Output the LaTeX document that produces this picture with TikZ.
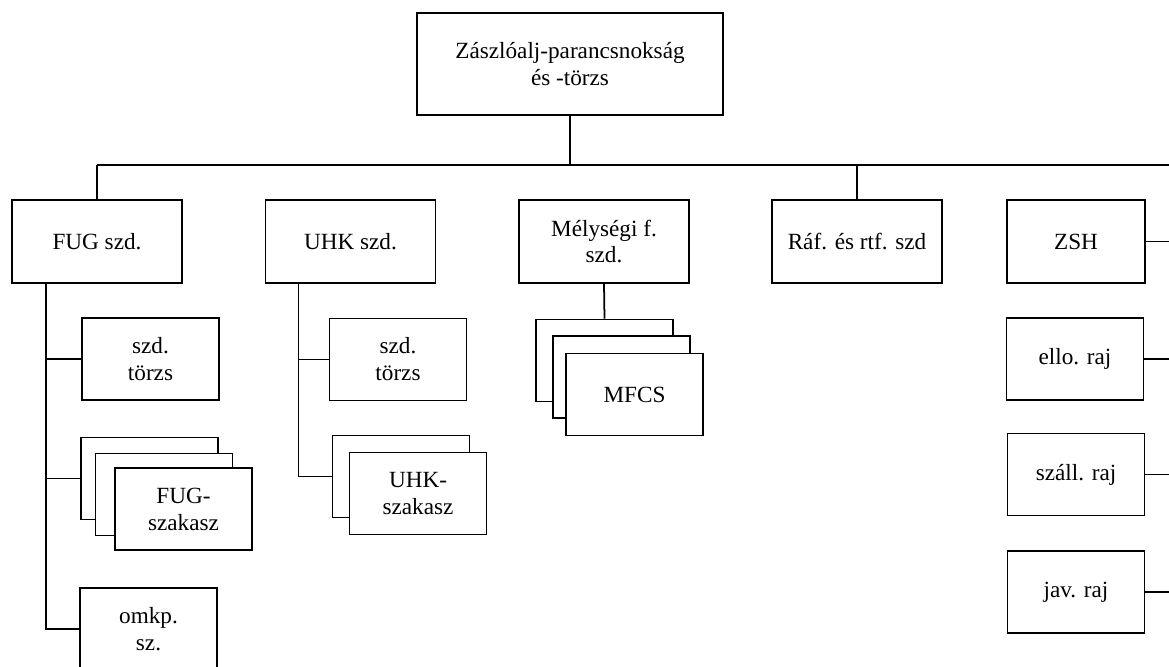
\documentclass[tikz,border=0pt]{standalone}
\usepackage{fontspec}
\setmainfont{Liberation Serif}
\usetikzlibrary{positioning}

\begin{document}
\begin{tikzpicture}[
    x=0.02cm, y=-0.02cm,
    unit/.style={rectangle, draw, line width=1.1pt, fill=white, align=center,
                 font=\fontsize{13.2}{15.3}\selectfont,
                 minimum width=3.4cm, minimum height=1.66cm, inner sep=2pt},
    sub/.style={unit, minimum width=2.74cm, minimum height=1.64cm},
    link/.style={draw, line width=1pt}
]
    \useasboundingbox (0,0) rectangle (1169,666);

    % Command
    \node[unit, minimum width=6.12cm, minimum height=2.04cm] (cmd) at (570,64)
        {Zászlóalj-parancsnokság\\és -törzs};

    % Companies
    \node[unit] (fug) at (97,241.5) {FUG szd.};
    \node[unit] (uhk) at (350.5,241.5) {UHK szd.};
    \node[unit] (mely) at (604,241.5) {Mélységi f.\\szd.};
    \node[unit] (raf) at (857,241.5) {Ráf. és rtf. szd};
    \node[unit, minimum width=2.76cm] (zsh) at (1076,241.5) {ZSH};

    % FUG szd. elements
    \node[sub] (fugtorzs) at (150.5,359) {szd.\\törzs};
    \node[sub] (fugsz3) at (149.5,478.5) {};
    \node[sub] (fugsz2) at (164,494.5) {};
    \node[sub] (fugsz) at (183.5,509) {FUG-\\szakasz};
    \node[sub] (omkp) at (148.5,629) {omkp.\\sz.};

    % UHK szd. elements
    \node[sub] (uhktorzs) at (398,359.5) {szd.\\törzs};
    \node[sub] (uhksz2) at (401,476.5) {};
    \node[sub] (uhksz) at (418,493.5) {UHK-\\szakasz};

    % MFCS stack
    \node[sub] (mfcs3) at (604.5,360.5) {};
    \node[sub] (mfcs2) at (621.5,377) {};
    \node[sub] (mfcs) at (634.5,394.5) {MFCS};

    % ZSH elements
    \node[sub] (ello) at (1075,359) {ello. raj};
    \node[sub] (szall) at (1076,474.5) {száll. raj};
    \node[sub] (jav) at (1076,592) {jav. raj};

    % Main bus
    \coordinate (busl) at (97,165);
    \coordinate (busr) at (1185,165);
    \draw[link] (cmd.south) -- (cmd.south |- busl);
    \draw[link] (busl) -- (busr);
    \foreach \n in {fug,raf}
        \draw[link] (\n.north) -- (\n.north |- busl);

    % Branches
    \draw[link] (fug.south west) ++(35,0) coordinate (fugtrunk)
        -- (fugtrunk |- omkp.west) -- (omkp.west);
    \draw[link] (fugtrunk |- fugtorzs.west) -- (fugtorzs.west);
    \draw[link] (fugtrunk |- fugsz3.west) -- (fugsz3.west);

    \draw[link] (uhk.south west) ++(34,0) coordinate (uhktrunk)
        -- (uhktrunk |- uhksz2.west) -- (uhksz2.west);
    \draw[link] (uhktrunk |- uhktorzs.west) -- (uhktorzs.west);

    \draw[link] (mely.south) -- (mfcs3.north);

    \draw[link] (busr) -- (busr |- jav.east);
    \foreach \n in {zsh,ello,szall,jav}
        \draw[link] (\n.east) -- (\n.east -| busr);
\end{tikzpicture}
\end{document}
